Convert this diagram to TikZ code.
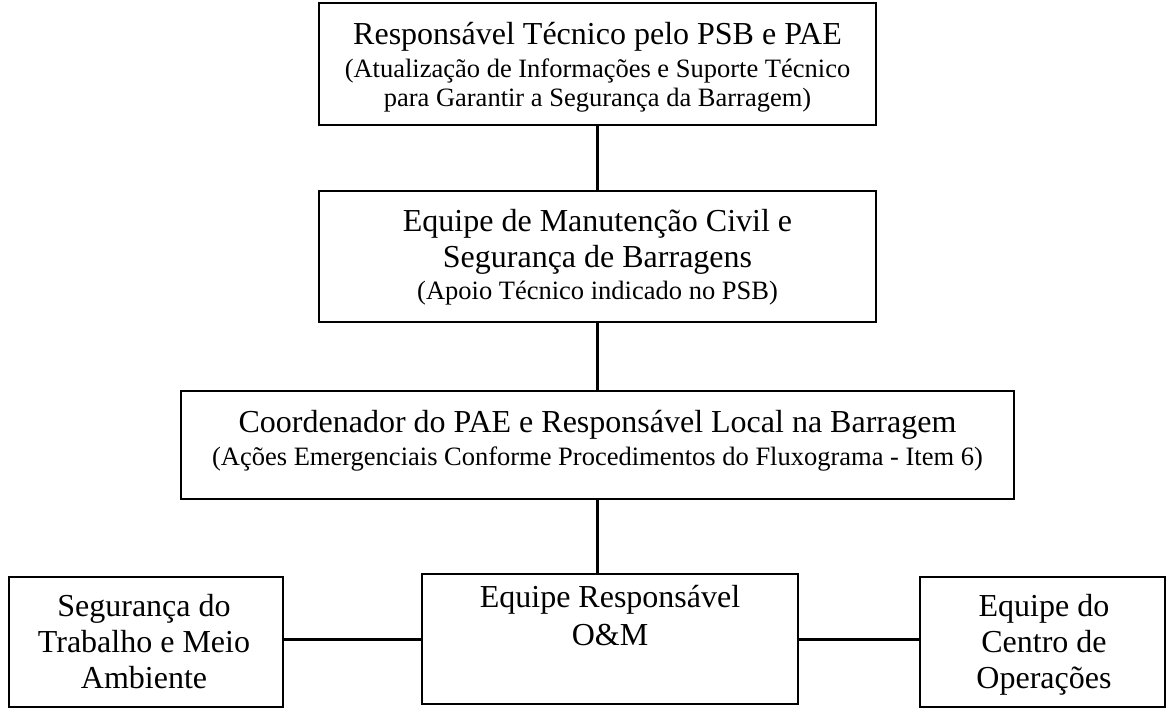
\documentclass[tikz,border=0pt]{standalone}
\usepackage{fontspec}
\setmainfont{Liberation Serif}
\begin{document}
\begin{tikzpicture}[x=1pt,y=-1pt,
  box/.style={draw, line width=1.6pt, inner sep=0pt, rectangle},
  link/.style={line width=3pt},
  big/.style={font=\fontsize{32}{36}\selectfont, anchor=base, inner sep=0pt},
  small/.style={font=\fontsize{26.5}{30}\selectfont, anchor=base, inner sep=0pt}]
\useasboundingbox (0,0) rectangle (1173,708);
% boxes
\node[box, minimum width=557pt, minimum height=122pt] (b1) at (597.5,64) {};
\node[box, minimum width=557pt, minimum height=131pt] (b2) at (597.5,256.5) {};
\node[box, minimum width=833pt, minimum height=108pt] (b3) at (597.5,445) {};
\node[box, minimum width=274pt, minimum height=130pt] (lb) at (146,642) {};
\node[box, minimum width=376pt, minimum height=130pt] (b4) at (610,639) {};
\node[box, minimum width=245pt, minimum height=130pt] (rb) at (1042.5,642) {};
% texts
\node[big] (t1a) at (597.5,45) {Responsável Técnico pelo PSB e PAE};
\node[small] (t1b) at (597.5,78) {(Atualização de Informações e Suporte Técnico};
\node[small] (t1c) at (597.5,107) {para Garantir a Segurança da Barragem)};
\node[big] (t2a) at (597.5,232) {Equipe de Manutenção Civil e};
\node[big] (t2b) at (597.5,268) {Segurança de Barragens};
\node[small] (t2c) at (597.5,300) {(Apoio Técnico indicado no PSB)};
\node[big] (t3a) at (597.5,432) {Coordenador do PAE e Responsável Local na Barragem};
\node[small] (t3b) at (597.5,465) {(Ações Emergenciais Conforme Procedimentos do Fluxograma - Item 6)};
\node[big] (tla) at (144,616) {Segurança do};
\node[big] (tlb) at (144,652) {Trabalho e Meio};
\node[big] (tlc) at (144,688) {Ambiente};
\node[big] (t4a) at (610,607) {Equipe Responsável};
\node[big] (t4b) at (610,645) {O\&M};
\node[big] (tra) at (1044,616) {Equipe do};
\node[big] (trb) at (1044,652) {Centro de};
\node[big] (trc) at (1044,688) {Operações};
% connectors
\draw[link] (b1.south) -- (b2.north);
\draw[link] (b2.south) -- (b3.north);
\draw[link] (b3.south) -- (b3.south |- b4.north);
\draw[link] (b4.west -| lb.east) -- (b4.west);
\draw[link] (b4.east) -- (b4.east -| rb.west);
\end{tikzpicture}
\end{document}
